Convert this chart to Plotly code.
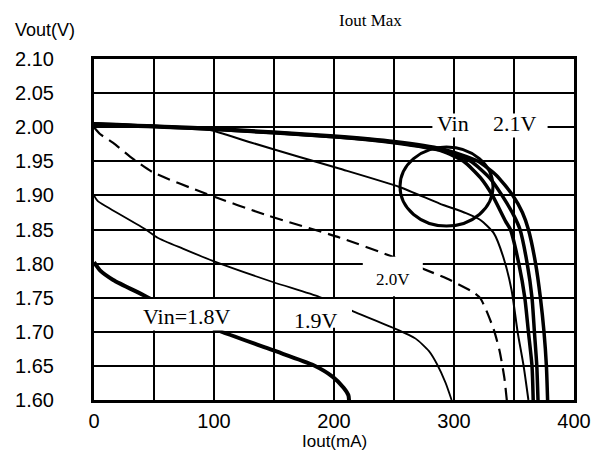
import plotly.graph_objects as go

# ---------------- data ----------------
vin18_x = [0, 2, 5, 16, 41, 70, 102, 149, 183, 199, 208, 212, 212.5]
vin18_y = [1.802, 1.797, 1.79, 1.776, 1.754, 1.728, 1.703, 1.673, 1.651, 1.634, 1.618, 1.607, 1.60]

vin19_x = [0, 3, 11, 44, 53, 74, 99, 149, 188, 216, 249, 268, 279, 286, 293, 298]
vin19_y = [1.90, 1.892, 1.883, 1.849, 1.838, 1.822, 1.804, 1.773, 1.751, 1.73, 1.706, 1.690, 1.672, 1.652, 1.625, 1.60]

vin20_x = [0, 5, 16, 30, 49, 94, 144, 205, 249, 294, 316, 322, 327, 333, 338, 342, 344]
vin20_y = [2.0, 1.99, 1.977, 1.957, 1.934, 1.902, 1.871, 1.838, 1.81, 1.778, 1.758, 1.749, 1.731, 1.704, 1.672, 1.632, 1.60]

curveA_x = [0, 50, 94, 130, 172, 205, 255, 288, 310, 322, 333, 341, 348, 353, 358, 362]
curveA_y = [2.005, 2.002, 1.997, 1.978, 1.956, 1.939, 1.912, 1.888, 1.874, 1.864, 1.845, 1.81, 1.761, 1.70, 1.65, 1.60]

curveB_x = [0, 100, 200, 250, 290, 308, 322, 332, 343, 347, 354, 359, 362, 365, 366]
curveB_y = [2.004, 1.997, 1.986, 1.977, 1.965, 1.95, 1.926, 1.90, 1.862, 1.85, 1.80, 1.75, 1.70, 1.65, 1.60]

curveC_x = [0, 100, 200, 250, 290, 314, 330, 340, 350, 355, 361, 365, 367, 369, 370]
curveC_y = [2.005, 1.997, 1.986, 1.978, 1.966, 1.95, 1.925, 1.90, 1.87, 1.85, 1.80, 1.75, 1.70, 1.65, 1.60]

curveD_x = [0, 100, 200, 250, 290, 320, 335, 349, 357, 362, 368, 372, 375, 377, 378]
curveD_y = [2.005, 1.998, 1.987, 1.979, 1.968, 1.95, 1.93, 1.90, 1.875, 1.85, 1.80, 1.75, 1.70, 1.65, 1.60]

x_ticks = [0, 100, 200, 300, 400]
y_ticks = [1.60, 1.65, 1.70, 1.75, 1.80, 1.85, 1.90, 1.95, 2.00, 2.05, 2.10]

# ---------------- figure ----------------
fig = go.Figure()

def add(x, y, width, dash="solid"):
    fig.add_trace(go.Scatter(x=x, y=y, mode="lines",
                             line=dict(color="black", width=width, dash=dash, shape="spline", smoothing=0.6),
                             showlegend=False, hoverinfo="skip"))

add(vin18_x, vin18_y, 4)
add(vin19_x, vin19_y, 1.8)
add(vin20_x, vin20_y, 2.2, dash="13px,7px")
add(curveA_x, curveA_y, 2)
add(curveB_x, curveB_y, 3.5)
add(curveC_x, curveC_y, 3.5)
add(curveD_x, curveD_y, 3.5)

serif = "Liberation Serif, Times New Roman, serif"
sans = "Liberation Sans, Arial, sans-serif"

shapes = [
    dict(type="rect", xref="x", yref="y", x0=38, x1=121, y0=1.702, y1=1.748,
         fillcolor="white", line=dict(width=0), layer="above"),
    dict(type="rect", xref="x", yref="y", x0=160, x1=215, y0=1.706, y1=1.748,
         fillcolor="white", line=dict(width=0), layer="above"),
    dict(type="rect", xref="x", yref="y", x0=224, x1=274, y0=1.752, y1=1.81,
         fillcolor="white", line=dict(width=0), layer="above"),
    dict(type="rect", xref="x", yref="y", x0=282, x1=378, y0=1.985, y1=2.02,
         fillcolor="white", line=dict(width=0), layer="above"),
    dict(type="circle", xref="x", yref="y", x0=255, x1=332.5, y0=1.855, y1=1.971,
         line=dict(color="black", width=3), layer="above"),
]

annotations = [
    dict(x=77.5, y=1.723, xref="x", yref="y", text="Vin=1.8V", showarrow=False,
         font=dict(family=serif, size=22, color="black")),
    dict(x=185, y=1.717, xref="x", yref="y", text="1.9V", showarrow=False,
         font=dict(family=serif, size=22, color="black")),
    dict(x=249, y=1.777, xref="x", yref="y", text="2.0V", showarrow=False,
         font=dict(family=serif, size=17, color="black")),
    dict(x=299, y=2.005, xref="x", yref="y", text="Vin", showarrow=False,
         font=dict(family=serif, size=22, color="black")),
    dict(x=351, y=2.005, xref="x", yref="y", text="2.1V", showarrow=False,
         font=dict(family=serif, size=22, color="black")),
    dict(x=370, y=20, xref="paper", yref="paper", text="Iout Max", showarrow=False,
         font=dict(family=serif, size=17, color="black")),
    dict(x=45, y=30, xref="paper", yref="paper", text="Vout(V)", showarrow=False,
         font=dict(family=sans, size=18, color="black")),
    dict(x=334, y=442, xref="paper", yref="paper", text="Iout(mA)", showarrow=False,
         font=dict(family=sans, size=17, color="black")),
]

L, R, T, B = 94, 29, 59, 67
W, H = 603, 467
pw, ph = W - L - R, H - T - B
for a in annotations:
    if a["xref"] == "paper":
        a["x"] = (a["x"] - L) / pw
        a["y"] = 1 - (a["y"] - T) / ph
        a["xanchor"] = "center"
        a["yanchor"] = "middle"

fig.update_layout(
    width=W, height=H,
    margin=dict(l=L, r=R, t=T, b=B, pad=0),
    paper_bgcolor="white", plot_bgcolor="white",
    shapes=shapes, annotations=annotations,
    font=dict(family=sans, color="black"),
)

fig.update_xaxes(range=[0, 400], tickvals=x_ticks, ticktext=[str(v) for v in x_ticks],
                 showgrid=True, gridcolor="black", gridwidth=1.5,
                 minor=dict(dtick=50, showgrid=True, gridcolor="black", gridwidth=1.5),
                 zeroline=False, showline=True, linecolor="black", linewidth=3, mirror=True,
                 ticks="", tickfont=dict(family=sans, size=20, color="black"),
                 ticklabelstandoff=1)
fig.update_yaxes(range=[1.60, 2.10], tickvals=y_ticks, ticktext=[f"{v:.2f}" for v in y_ticks],
                 showgrid=True, gridcolor="black", gridwidth=1.5,
                 zeroline=False, showline=True, linecolor="black", linewidth=3, mirror=True,
                 ticks="", tickfont=dict(family=sans, size=20, color="black"),
                 ticklabelstandoff=33)

fig.write_html("out.html", config={"displayModeBar": False},
               post_script="document.body.style.margin='0';")
